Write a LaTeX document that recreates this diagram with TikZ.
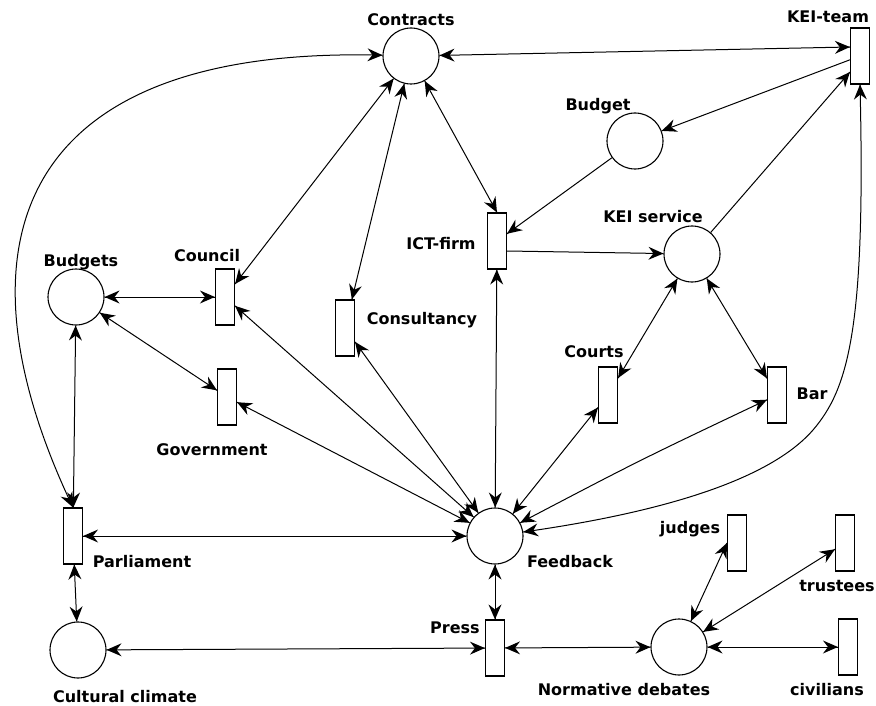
\documentclass[tikz,border=0pt]{standalone}
\usepackage{fontspec}
\setsansfont{DejaVu Sans}
\usetikzlibrary{decorations.markings}
\tikzset{
  pl/.style={circle, draw, line width=1.1pt, minimum size=56pt, inner sep=0pt},
  tr/.style={rectangle, draw, line width=1.1pt, minimum width=19pt, minimum height=56pt, inner sep=0pt},
  lb/.style={font=\sffamily\bfseries\fontsize{16}{18}\selectfont, inner sep=0pt},
  headend/.style={postaction={decorate, decoration={markings,
      mark=at position 1 with {\fill (0pt,0pt) -- (-15pt,6.5pt) -- (-10pt,0pt) -- (-15pt,-6.5pt) -- cycle;}}}},
  headstart/.style={postaction={decorate, decoration={markings,
      mark=at position 0 with {\fill (0pt,0pt) -- (15pt,6.5pt) -- (10pt,0pt) -- (15pt,-6.5pt) -- cycle;}}}},
  ar/.style={line width=1pt, headstart, headend},
  ar1/.style={line width=1pt, headend}
}
\begin{document}
\begin{tikzpicture}[x=1pt,y=-1pt]
\useasboundingbox (0,0) rectangle (876,706);
% places
\node[pl] (contracts) at (411,56) {};
\node[pl] (budget) at (635,141) {};
\node[pl] (keiserv) at (692,254) {};
\node[pl] (budgets) at (76,297) {};
\node[pl] (feedback) at (495,536) {};
\node[pl] (cultural) at (78,650) {};
\node[pl] (normative) at (679,647) {};
% transitions
\node[tr] (keiteam) at (860,56) {};
\node[tr] (ict) at (497,241) {};
\node[tr] (council) at (225,297) {};
\node[tr] (consult) at (345,328) {};
\node[tr] (gov) at (227,397) {};
\node[tr] (courts) at (608,395) {};
\node[tr] (bar) at (777,395) {};
\node[tr] (parl) at (73,536) {};
\node[tr] (judges) at (737,543) {};
\node[tr] (trustees) at (845,543) {};
\node[tr] (press) at (495,648) {};
\node[tr] (civil) at (848,647) {};
% labels
\node[lb] (lcontracts) at (411,20) {Contracts};
\node[lb] (lkeiteam) at (828,17) {KEI-team};
\node[lb] (lbudget) at (598,106) {Budget};
\node[lb] (lkeiserv) at (653,217) {KEI service};
\node[lb] (lict) at (441,244) {ICT-firm};
\node[lb] (lbudgets) at (81,262) {Budgets};
\node[lb] (lcouncil) at (207,256) {Council};
\node[lb] (lconsult) at (422,320) {Consultancy};
\node[lb] (lgov) at (212,450) {Government};
\node[lb] (lcourts) at (594,352) {Courts};
\node[lb] (lbar) at (812,394) {Bar};
\node[lb] (lparl) at (142,562) {Parliament};
\node[lb] (lfeedback) at (570,562) {Feedback};
\node[lb] (ljudges) at (690,529) {judges};
\node[lb] (ltrustees) at (837,586) {trustees};
\node[lb] (lpress) at (455,628) {Press};
\node[lb] (lnormative) at (624,690) {Normative debates};
\node[lb] (lcivil) at (827,690) {civilians};
\node[lb] (lcultural) at (125,697) {Cultural climate};
% helper coordinate on the long curve
\coordinate (cK) at (813,430);
% connectors
\draw[ar] (contracts) -- ([yshift=9pt]keiteam.west);
\draw[ar1] (keiteam) -- (budget);
\draw[ar1] (budget) -- (ict);
\draw[ar] (contracts) -- (ict.north);
\draw[ar1] ([yshift=-10pt]ict.east) -- (keiserv);
\draw[ar1] (keiserv) -- ([yshift=-16pt]keiteam.west);
\draw[ar] (contracts) -- (council);
\draw[ar] (contracts) -- (consult);
\draw[ar] (parl.north) .. controls (-50,250) and (10,45) .. (contracts);
\draw[ar] (budgets) -- (council);
\draw[ar] (budgets) -- (gov);
\draw[ar] (budgets) -- (parl);
\draw[ar] (council) -- (feedback);
\draw[ar] (gov) -- (feedback);
\draw[ar] (consult) -- (feedback);
\draw[ar] (ict) -- (feedback);
\draw[ar] (courts) -- (feedback);
\draw[ar] (feedback) .. controls (640,460) .. (bar);
\draw[ar] (keiteam.south) .. controls (866,330) and (848,389) .. (cK) .. controls (780,468) and (700,507) .. (feedback);
\draw[ar] (parl) -- (feedback);
\draw[ar] (parl) -- (cultural);
\draw[ar] (cultural) -- (press);
\draw[ar] (feedback) -- (press);
\draw[ar] (press) -- (normative);
\draw[ar] (normative) -- (judges.west);
\draw[ar] (normative) -- (trustees);
\draw[ar] (normative) -- (civil);
\draw[ar] (keiserv) -- (courts);
\draw[ar] (keiserv) -- (bar);
\end{tikzpicture}
\end{document}
